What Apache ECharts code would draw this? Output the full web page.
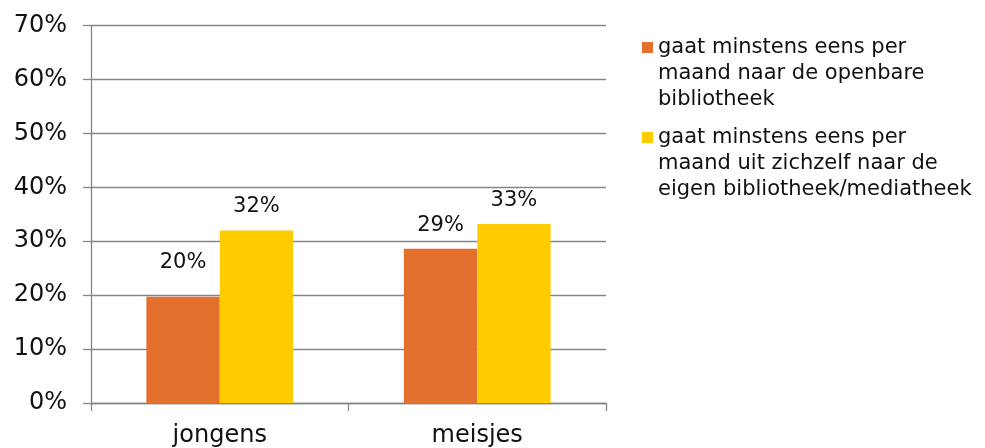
<!DOCTYPE html>
<html>
<head>
<meta charset="utf-8">
<script src="https://cdn.jsdelivr.net/npm/echarts@6/dist/echarts.min.js"></script>
<style>html,body{margin:0;padding:0;background:#fff}#c{width:985px;height:448px}</style>
</head>
<body>
<div id="c"></div>
<script>
var categories = ['jongens', 'meisjes'];
var seriesNames = [
  'gaat minstens eens per\nmaand naar de openbare\nbibliotheek',
  'gaat minstens eens per\nmaand uit zichzelf naar de\neigen bibliotheek/mediatheek'
];
var openbareValues = [19.7, 28.6];
var eigenValues = [32.0, 33.2];
var yTicks = { min: 0, max: 70, interval: 10 };

var FONT = 'DejaVu Sans';
var chart = echarts.init(document.getElementById('c'), null, { renderer: 'canvas' });
var legendIcon = 'path://M0,0h0.01v0.01h-0.01z M0,7h11v11h-11z M0,77.99h0.01v0.01h-0.01z';
function pct(p) { return Math.round(p.value) + '%'; }

chart.setOption({
  animation: false,
  textStyle: { fontFamily: FONT },
  grid: { left: 91, right: 379, top: 25.5, bottom: 44.5, containLabel: false },
  legend: {
    orient: 'vertical',
    left: 642,
    top: 35,
    padding: 0,
    itemWidth: 11,
    itemHeight: 78,
    itemGap: 12,
    icon: legendIcon,
    textStyle: { fontFamily: FONT, fontSize: 21, lineHeight: 26, color: '#111' },
    data: seriesNames
  },
  xAxis: {
    type: 'category',
    data: categories,
    axisLine: { lineStyle: { color: '#868686', width: 1.3 } },
    axisTick: { show: true, length: 8, lineStyle: { color: '#868686', width: 1.3 } },
    axisLabel: { fontFamily: FONT, fontSize: 24, color: '#111', margin: 21 }
  },
  yAxis: {
    type: 'value',
    min: yTicks.min,
    max: yTicks.max,
    interval: yTicks.interval,
    axisLine: { show: true, lineStyle: { color: '#868686', width: 1.3 } },
    axisTick: { show: true, length: 8, lineStyle: { color: '#868686', width: 1.3 } },
    splitLine: { lineStyle: { color: '#868686', width: 1.3 } },
    axisLabel: { fontFamily: FONT, fontSize: 24, color: '#111', margin: 24, formatter: '{value}%' }
  },
  series: [
    {
      name: seriesNames[0],
      type: 'bar',
      barGap: '0%',
      barCategoryGap: '43%',
      itemStyle: { color: '#E3702C' },
      label: { show: true, position: 'top', distance: 13, fontFamily: FONT, fontSize: 21, color: '#111', formatter: pct },
      data: openbareValues.map(function (v, i) { return i === 0 ? { value: v, label: { distance: 24 } } : v; })
    },
    {
      name: seriesNames[1],
      type: 'bar',
      barGap: '0%',
      barCategoryGap: '43%',
      itemStyle: { color: '#FFCC00' },
      label: { show: true, position: 'top', distance: 13, fontFamily: FONT, fontSize: 21, color: '#111', formatter: pct },
      data: eigenValues
    }
  ]
});
</script>
</body>
</html>
